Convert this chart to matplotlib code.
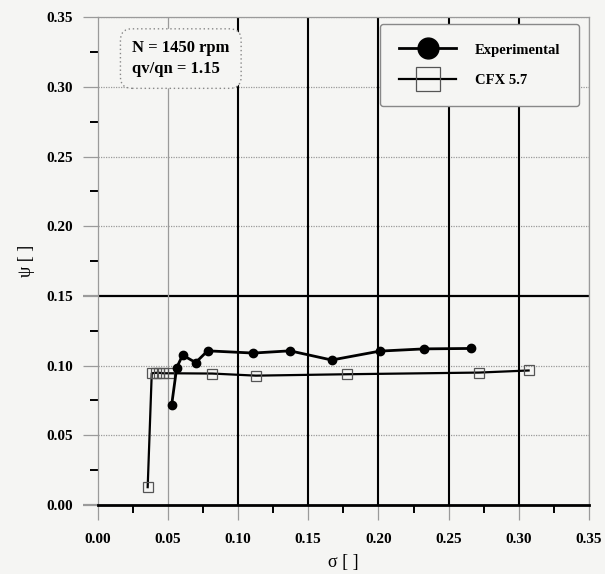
import numpy as np
import matplotlib.pyplot as plt

# valeurs
exp_sigma = [0.0527, 0.0563, 0.0605, 0.0698, 0.0783, 0.1108, 0.137, 0.1667, 0.201, 0.2326, 0.2657]
exp_psi = [0.0719, 0.0986, 0.1075, 0.1022, 0.1106, 0.109, 0.1106, 0.104, 0.1104, 0.112, 0.1123]

cfx_sigma = [0.0356, 0.0385, 0.0415, 0.0440, 0.0465, 0.0506, 0.0816, 0.1127, 0.1773, 0.2716, 0.307]
cfx_psi = [0.0128, 0.0945, 0.0948, 0.0948, 0.0945, 0.0945, 0.0943, 0.0928, 0.0938, 0.095, 0.0965]

ticks = [0.00, 0.05, 0.10, 0.15, 0.20, 0.25, 0.30, 0.35]
minor_ticks = [0.025, 0.075, 0.125, 0.175, 0.225, 0.275, 0.325]
tick_labels = ['0.00', '0.05', '0.10', '0.15', '0.20', '0.25', '0.30', '0.35']

bg = '#f5f5f3'
plt.rcParams['font.family'] = ['Liberation Serif', 'DejaVu Serif']
plt.rcParams['font.weight'] = 'bold'

fig = plt.figure(figsize=(6.05, 5.74), dpi=100, facecolor=bg)
ax = fig.add_axes([0.1615, 0.1202, 0.812, 0.850], facecolor=bg)

# grille : lignes noires / grises comme sur l'original
for v in ticks[1:]:
    dark = v in (0.15,)
    ax.axhline(v, color='black' if dark else '#9a9a9a', lw=1.6 if dark else 0.9,
               ls='-' if dark else (0, (1, 1)), zorder=1)
for v in ticks[1:]:
    dark = 0.08 < v < 0.32
    ax.axvline(v, color='black' if dark else '#9a9a9a', lw=1.5 if dark else 0.9, zorder=1)

# courbes
ax.plot(exp_sigma, exp_psi, color='black', lw=2, marker='o', ms=6,
        mfc='black', mec='black', label='Experimental', zorder=4)
ax.plot(cfx_sigma, cfx_psi, color='black', lw=1.6, marker='s', ms=7,
        mfc='none', mec='#555555', mew=0.9, label='CFX 5.7', zorder=3)

ax.set_xlim(0, 0.35)
ax.set_ylim(0, 0.35)
ax.set_xticks(ticks)
ax.set_yticks(ticks)
ax.set_xticklabels(tick_labels)
ax.set_yticklabels(tick_labels)
ax.set_xticks(minor_ticks, minor=True)
ax.set_yticks(minor_ticks, minor=True)
ax.tick_params(which='major', direction='out', length=11, width=0.9, color='#9a9a9a',
               labelsize=11)
ax.tick_params(axis='x', which='major', pad=9)
ax.tick_params(axis='y', which='major', pad=7)
ax.tick_params(which='minor', direction='out', length=6, width=1.4, color='black')
for t in ax.yaxis.get_major_ticks():
    if abs(t.get_loc() - 0.15) < 1e-6 or abs(t.get_loc()) < 1e-6:
        t.tick1line.set_color('black')
        t.tick1line.set_markeredgewidth(1.6)

for s in ['top', 'right', 'left']:
    ax.spines[s].set_color('#9a9a9a')
    ax.spines[s].set_linewidth(0.9)
ax.spines['bottom'].set_color('black')
ax.spines['bottom'].set_linewidth(2)

ax.set_xlabel('σ [ ]', fontsize=13, labelpad=6)
ax.set_ylabel('ψ [ ]', fontsize=13, labelpad=8)

leg = ax.legend(loc='upper left', bbox_to_anchor=(0.56, 1.0), fontsize=10.5,
                handlelength=3.9, markerscale=2.5, labelspacing=1.2,
                borderpad=1.3, handletextpad=1.3, fancybox=True,
                facecolor=bg, edgecolor='#888888', framealpha=1)
leg.get_frame().set_linewidth(1.0)

ax.text(0.07, 0.915, 'N = 1450 rpm\nqv/qn = 1.15', transform=ax.transAxes,
        ha='left', va='center', fontsize=12, linespacing=1.35, zorder=5,
        bbox=dict(boxstyle='round,pad=0.7', fc=bg, ec='#888888', ls=(0, (1, 2)), lw=1))

fig.savefig('out.png', dpi=100, facecolor=bg)
